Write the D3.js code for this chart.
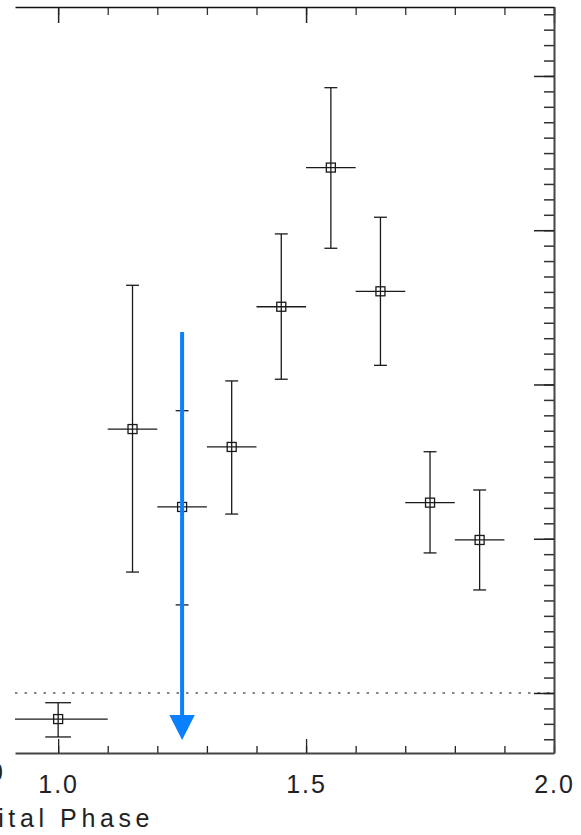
<!DOCTYPE html>
<html>
<head>
<meta charset="utf-8">
<script src="https://cdn.jsdelivr.net/npm/d3@7"></script>
<style>
  html, body { margin: 0; padding: 0; background: #fff; }
  svg { display: block; }
  .tick text { font-family: "Liberation Sans", "DejaVu Sans", sans-serif; }
</style>
</head>
<body>
<div id="chart"></div>
<script>
// Light curve points (orbital phase vs. flux, arbitrary units)
var phase    = [1.00, 1.15, 1.25, 1.35, 1.45, 1.55, 1.65, 1.75, 1.85];
var phaseErr = [0.10, 0.05, 0.05, 0.05, 0.05, 0.05, 0.05, 0.05, 0.05];
var flux     = [0.831, 2.711, 2.206, 2.595, 3.504, 4.406, 3.604, 2.234, 1.992];
var fluxHi   = [0.937, 3.643, 2.830, 3.023, 3.976, 4.924, 4.084, 2.564, 2.316];
var fluxLo   = [0.715, 1.784, 1.571, 2.160, 3.034, 3.883, 3.124, 1.908, 1.668];

// Upper-limit arrow
var arrowPhase = 1.25;
var arrowFrom  = 3.34;
var arrowTo    = 0.695;

// Reference level (dotted)
var baseLevel = 1.0;

// Axis ticks
var xMajor = [1.0, 1.5, 2.0];
var xMinor = d3.range(10, 21).map(function(d) { return d / 10; });
var yMajor = [1, 2, 3, 4, 5];
var yMinor = d3.range(7, 55).map(function(d) { return d / 10; });

var W = 581, H = 835;

var svg = d3.select('#chart').append('svg')
    .attr('width', W)
    .attr('height', H);

// Scales (plot is cropped on the left and top)
var x = d3.scaleLinear().domain([0.913, 2.0]).range([15, 554]);
var y = d3.scaleLinear().domain([0.611, 5.447]).range([753, 7]);

var axisColor = '#444';

// Minor ticks - bottom (pointing up)
svg.append('g')
    .attr('transform', 'translate(0,753)')
    .call(d3.axisBottom(x).tickValues(xMinor).tickSize(-7).tickSizeOuter(0).tickFormat(''))
    .call(function(g) { g.selectAll('line').attr('stroke', '#222').attr('stroke-width', 1.3); g.select('.domain').remove(); });

// Major ticks + labels - bottom
svg.append('g')
    .attr('transform', 'translate(0,753)')
    .call(d3.axisBottom(x).tickValues(xMajor).tickSize(-14).tickSizeOuter(0).tickPadding(22)
        .tickFormat(d3.format('.1f')))
    .call(function(g) {
        g.select('.domain').attr('stroke', axisColor).attr('stroke-width', 2);
        g.selectAll('line').attr('stroke', '#222').attr('stroke-width', 1.3);
        g.selectAll('text')
            .attr('fill', '#222')
            .style('font-size', '25px')
            .style('letter-spacing', '2px');
    });

// Top axis (ticks pointing down)
svg.append('g')
    .attr('transform', 'translate(0,7)')
    .call(d3.axisBottom(x).tickValues(xMinor).tickSize(8).tickSizeOuter(0).tickFormat(''))
    .call(function(g) { g.selectAll('line').attr('stroke', '#333').attr('stroke-width', 1.3); g.select('.domain').remove(); });
svg.append('g')
    .attr('transform', 'translate(0,7)')
    .call(d3.axisBottom(x).tickValues(xMajor).tickSize(16).tickSizeOuter(0).tickFormat(''))
    .call(function(g) {
        g.select('.domain').attr('stroke', '#111').attr('stroke-width', 1.6);
        g.selectAll('line').attr('stroke', '#222').attr('stroke-width', 1.5);
    });

// Right axis (ticks pointing left, inward)
svg.append('g')
    .attr('transform', 'translate(554,0)')
    .call(d3.axisLeft(y).tickValues(yMinor).tickSize(10).tickSizeOuter(0).tickFormat(''))
    .call(function(g) { g.selectAll('line').attr('stroke', '#333').attr('stroke-width', 1.5); g.select('.domain').remove(); });
svg.append('g')
    .attr('transform', 'translate(554,0)')
    .call(d3.axisLeft(y).tickValues(yMajor).tickSize(20).tickSizeOuter(0).tickFormat(''))
    .call(function(g) {
        g.select('.domain').attr('stroke', axisColor).attr('stroke-width', 2);
        g.selectAll('line').attr('stroke', '#222').attr('stroke-width', 1.5);
    });

// Dotted reference line
svg.append('line')
    .attr('x1', x.range()[0]).attr('x2', x.range()[1])
    .attr('y1', y(baseLevel)).attr('y2', y(baseLevel))
    .attr('stroke', '#111')
    .attr('stroke-width', 1.2)
    .attr('stroke-dasharray', '2.5,7');

// Data points with error bars
var pts = phase.map(function(p, i) {
    return { x: p, xe: phaseErr[i], y: flux[i], hi: fluxHi[i], lo: fluxLo[i] };
});

var clipX = x.range()[0];
var pg = svg.append('g').attr('stroke', '#1a1a1a').attr('stroke-width', 1.3).attr('fill', 'none');

var pt = pg.selectAll('g.pt').data(pts).enter().append('g').attr('class', 'pt');

// horizontal (phase bin) bar
pt.append('line')
    .attr('x1', function(d) { return Math.max(clipX, x(d.x - d.xe)); })
    .attr('x2', function(d) { return x(d.x + d.xe); })
    .attr('y1', function(d) { return y(d.y); })
    .attr('y2', function(d) { return y(d.y); });

// vertical error bar
pt.append('line')
    .attr('x1', function(d) { return x(d.x); })
    .attr('x2', function(d) { return x(d.x); })
    .attr('y1', function(d) { return y(d.hi); })
    .attr('y2', function(d) { return y(d.lo); });

// caps, width scales with the phase bin
['hi', 'lo'].forEach(function(k) {
    pt.append('line')
        .attr('x1', function(d) { return x(d.x) - (x(d.x + d.xe) - x(d.x)) * 0.26; })
        .attr('x2', function(d) { return x(d.x) + (x(d.x + d.xe) - x(d.x)) * 0.26; })
        .attr('y1', function(d) { return y(d[k]); })
        .attr('y2', function(d) { return y(d[k]); });
});

// square markers
pt.append('rect')
    .attr('x', function(d) { return x(d.x) - 4.5; })
    .attr('y', function(d) { return y(d.y) - 4.5; })
    .attr('width', 9)
    .attr('height', 9)
    .attr('fill', 'none');

// Blue upper-limit arrow
var arrowColor = '#0a80ff';
var ax = x(arrowPhase);
var tipY = y(arrowTo);
var headLen = 25, headHalf = 12.7;
svg.append('line')
    .attr('x1', ax).attr('x2', ax)
    .attr('y1', y(arrowFrom)).attr('y2', tipY - headLen + 1)
    .attr('stroke', arrowColor)
    .attr('stroke-width', 4);
svg.append('path')
    .attr('d', 'M' + (ax - headHalf) + ',' + (tipY - headLen) +
               'L' + (ax + headHalf) + ',' + (tipY - headLen) +
               'L' + ax + ',' + tipY + 'Z')
    .attr('fill', arrowColor);

// X axis title (cropped on the left)
svg.append('text')
    .attr('x', 154)
    .attr('y', 827)
    .attr('text-anchor', 'end')
    .attr('fill', '#222')
    .style('font-family', '"Liberation Sans", "DejaVu Sans", sans-serif')
    .style('font-size', '25px')
    .style('letter-spacing', '4.6px')
    .text('Orbital Phase');

// fragment of a cropped label at the left edge
svg.append('text')
    .attr('x', -11)
    .attr('y', 781)
    .attr('fill', '#222')
    .style('font-family', '"Liberation Sans", "DejaVu Sans", sans-serif')
    .style('font-size', '25px')
    .text('0');
</script>
</body>
</html>
